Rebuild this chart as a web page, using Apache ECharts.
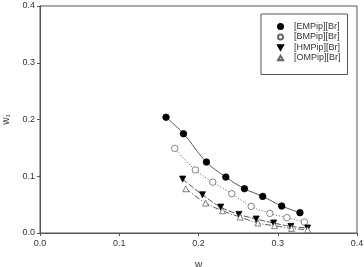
<!DOCTYPE html>
<html><head><meta charset="utf-8">
<script src="https://cdn.jsdelivr.net/npm/echarts@6/dist/echarts.min.js"></script>
<style>html,body{margin:0;padding:0;background:#fff}#c{width:364px;height:267px}</style>
</head><body><div id="c"></div>
<script>
var xTicks = [0.0, 0.1, 0.2, 0.3, 0.4];
var yTicks = [0.0, 0.1, 0.2, 0.3, 0.4];
var seriesNames = ['[EMPip][Br]', '[BMPip][Br]', '[HMPip][Br]', '[OMPip][Br]'];
var emX = [0.159, 0.181, 0.210, 0.2345, 0.258, 0.281, 0.305, 0.328];
var emY = [0.204, 0.175, 0.125, 0.0985, 0.078, 0.0645, 0.0475, 0.0358];
var bmX = [0.170, 0.196, 0.218, 0.242, 0.2665, 0.290, 0.3116, 0.3335];
var bmY = [0.149, 0.111, 0.0897, 0.0692, 0.0469, 0.0346, 0.027, 0.0194];
var hmX = [0.180, 0.205, 0.228, 0.251, 0.2728, 0.2947, 0.3166, 0.3377];
var hmY = [0.095, 0.0674, 0.0457, 0.0328, 0.0246, 0.0176, 0.0117, 0.0088];
var omX = [0.184, 0.209, 0.2303, 0.2526, 0.275, 0.296, 0.3174, 0.3377];
var omY = [0.078, 0.0528, 0.0392, 0.0281, 0.0176, 0.0128, 0.0081, 0.0058];

function pairs(xs, ys){ return xs.map(function(x,i){return [x, ys[i]];}); }
var downTri = 'path://M0,0L10,0L5,9Z';
var upTri = 'path://M5,0L10,9L0,9Z';
var axisCol = '#555';
var txtCol = '#333';
var font = 'Liberation Sans, Arial';
var styles = [
  {sym:'circle', fill:'#000', stroke:'#000', size:6.5, line:'solid'},
  {sym:'circle', fill:'#fff', stroke:'#666', size:6.5, line:[1,2]},
  {sym:downTri, fill:'#000', stroke:'#000', size:6, line:[6,2]},
  {sym:upTri, fill:'#fff', stroke:'#666', size:6, line:[6,2,1,2]}
];
var data = [pairs(emX,emY), pairs(bmX,bmY), pairs(hmX,hmY), pairs(omX,omY)];
var series = [];
data.forEach(function(d,i){
  series.push({type:'line', data:d, smooth:0.4, symbol:'none', silent:true,
    lineStyle:{color:'#555', width:1, type:styles[i].line}, z:2});
});
data.forEach(function(d,i){
  series.push({type:'scatter', name:seriesNames[i], data:d, symbol:styles[i].sym,
    symbolSize:styles[i].size,
    itemStyle:{color:styles[i].fill, borderColor:styles[i].stroke, borderWidth:0.8, opacity:1}, z:3});
});
var chart = echarts.init(document.getElementById('c'), null, {renderer:'canvas'});
chart.setOption({
  backgroundColor:'#fff',
  animation:false,
  grid:{left:40, right:7, top:6, bottom:34, show:true, borderColor:axisCol, borderWidth:1,
    containLabel:false, outerBoundsMode:'none'},
  legend:{
    data:seriesNames.map(function(n,i){return {name:n, icon:styles[i].sym};}),
    orient:'vertical', left:261, top:14,
    itemWidth:5, itemHeight:5, itemGap:1.5,
    padding:[8,7,12,16],
    borderColor:axisCol, borderWidth:1, backgroundColor:'#fff',
    textStyle:{fontSize:9, color:txtCol, fontFamily:font, padding:[0,0,0,6]}
  },
  xAxis:{type:'value', min:0, max:0.4, interval:0.1,
    name:'w', nameLocation:'middle', nameGap:27,
    nameTextStyle:{fontSize:10, color:txtCol, fontFamily:font},
    axisLine:{lineStyle:{color:axisCol}}, axisTick:{inside:false, length:3, lineStyle:{color:axisCol}},
    splitLine:{show:false},
    axisLabel:{fontSize:9, color:txtCol, fontFamily:font, margin:6,
      formatter:function(v){return v.toFixed(1);}}},
  yAxis:{type:'value', min:0, max:0.4, interval:0.1,
    name:'{a|w}{s|1}', nameLocation:'middle', nameGap:29, nameRotate:90,
    nameTextStyle:{rich:{a:{fontSize:10, color:txtCol, fontFamily:font}, s:{fontSize:6, color:txtCol, verticalAlign:'bottom', padding:[4,0,0,0], fontFamily:font}}},
    axisLine:{lineStyle:{color:axisCol}}, axisTick:{inside:false, length:3, lineStyle:{color:axisCol}},
    splitLine:{show:false},
    axisLabel:{fontSize:9, color:txtCol, fontFamily:font, margin:5,
      formatter:function(v){return v.toFixed(1);}}},
  series:series
});
</script></body></html>
